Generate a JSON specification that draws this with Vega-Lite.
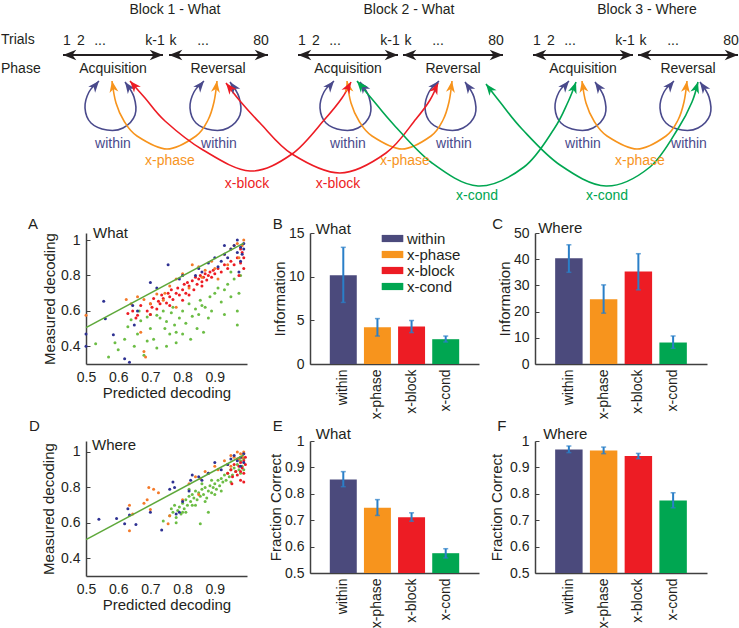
{
"$schema": "https://vega.github.io/schema/vega-lite/v6.json",
"padding": 0,
"autosize": {"type": "pad"},
"background": "white",
"columns": 5,
"spacing": {"row": 77, "column": 0},
"bounds": "flush",
"align": {"row": "each", "column": "each"},
"resolve": {"scale": {"color": "independent"}, "legend": {"color": "independent"}},
"datasets": {
"barrows": [{"x":63,"x2":163,"y":52},{"x":169,"x2":268,"y":52},{"x":298,"x2":398,"y":52},{"x":403,"x2":503,"y":52},{"x":533,"x2":633,"y":52},{"x":638,"x2":738,"y":52}],
"bheads": [{"x":63,"y":52,"a":-90},{"x":163,"y":52,"a":90},{"x":169,"y":52,"a":-90},{"x":268,"y":52,"a":90},{"x":298,"y":52,"a":-90},{"x":398,"y":52,"a":90},{"x":403,"y":52,"a":-90},{"x":503,"y":52,"a":90},{"x":533,"y":52,"a":-90},{"x":633,"y":52,"a":90},{"x":638,"y":52,"a":-90},{"x":738,"y":52,"a":90}],
"curves": [
{"id":"L1","g":"w","i":0,"x":99,"y":78},{"id":"L1","g":"w","i":1,"x":89,"y":89},{"id":"L1","g":"w","i":2,"x":85,"y":105},{"id":"L1","g":"w","i":3,"x":91,"y":120},{"id":"L1","g":"w","i":4,"x":107,"y":127},{"id":"L1","g":"w","i":5,"x":123,"y":125},{"id":"L1","g":"w","i":6,"x":135,"y":112},{"id":"L1","g":"w","i":7,"x":134,"y":94},{"id":"L1","g":"w","i":8,"x":125,"y":79},
{"id":"L2","g":"w","i":0,"x":204,"y":78},{"id":"L2","g":"w","i":1,"x":194,"y":89},{"id":"L2","g":"w","i":2,"x":190,"y":105},{"id":"L2","g":"w","i":3,"x":196,"y":120},{"id":"L2","g":"w","i":4,"x":212,"y":127},{"id":"L2","g":"w","i":5,"x":228,"y":125},{"id":"L2","g":"w","i":6,"x":240,"y":112},{"id":"L2","g":"w","i":7,"x":239,"y":94},{"id":"L2","g":"w","i":8,"x":230,"y":79},
{"id":"L3","g":"w","i":0,"x":334,"y":78},{"id":"L3","g":"w","i":1,"x":324,"y":89},{"id":"L3","g":"w","i":2,"x":320,"y":105},{"id":"L3","g":"w","i":3,"x":326,"y":120},{"id":"L3","g":"w","i":4,"x":342,"y":127},{"id":"L3","g":"w","i":5,"x":358,"y":125},{"id":"L3","g":"w","i":6,"x":370,"y":112},{"id":"L3","g":"w","i":7,"x":369,"y":94},{"id":"L3","g":"w","i":8,"x":360,"y":79},
{"id":"L4","g":"w","i":0,"x":439,"y":78},{"id":"L4","g":"w","i":1,"x":429,"y":89},{"id":"L4","g":"w","i":2,"x":425,"y":105},{"id":"L4","g":"w","i":3,"x":431,"y":120},{"id":"L4","g":"w","i":4,"x":447,"y":127},{"id":"L4","g":"w","i":5,"x":463,"y":125},{"id":"L4","g":"w","i":6,"x":475,"y":112},{"id":"L4","g":"w","i":7,"x":474,"y":94},{"id":"L4","g":"w","i":8,"x":465,"y":79},
{"id":"L5","g":"w","i":0,"x":569,"y":78},{"id":"L5","g":"w","i":1,"x":559,"y":89},{"id":"L5","g":"w","i":2,"x":555,"y":105},{"id":"L5","g":"w","i":3,"x":561,"y":120},{"id":"L5","g":"w","i":4,"x":577,"y":127},{"id":"L5","g":"w","i":5,"x":593,"y":125},{"id":"L5","g":"w","i":6,"x":605,"y":112},{"id":"L5","g":"w","i":7,"x":604,"y":94},{"id":"L5","g":"w","i":8,"x":595,"y":79},
{"id":"L6","g":"w","i":0,"x":674,"y":78},{"id":"L6","g":"w","i":1,"x":664,"y":89},{"id":"L6","g":"w","i":2,"x":660,"y":105},{"id":"L6","g":"w","i":3,"x":666,"y":120},{"id":"L6","g":"w","i":4,"x":682,"y":127},{"id":"L6","g":"w","i":5,"x":698,"y":125},{"id":"L6","g":"w","i":6,"x":710,"y":112},{"id":"L6","g":"w","i":7,"x":709,"y":94},{"id":"L6","g":"w","i":8,"x":700,"y":79},
{"id":"O1","g":"p","i":0,"x":112,"y":78},{"id":"O1","g":"p","i":1,"x":116,"y":100},{"id":"O1","g":"p","i":2,"x":124,"y":118},{"id":"O1","g":"p","i":3,"x":137,"y":133},{"id":"O1","g":"p","i":4,"x":167,"y":146},{"id":"O1","g":"p","i":5,"x":196,"y":133},{"id":"O1","g":"p","i":6,"x":208,"y":117},{"id":"O1","g":"p","i":7,"x":214,"y":99},{"id":"O1","g":"p","i":8,"x":217,"y":78},
{"id":"O2","g":"p","i":0,"x":347,"y":78},{"id":"O2","g":"p","i":1,"x":351,"y":100},{"id":"O2","g":"p","i":2,"x":359,"y":118},{"id":"O2","g":"p","i":3,"x":372,"y":133},{"id":"O2","g":"p","i":4,"x":402,"y":146},{"id":"O2","g":"p","i":5,"x":431,"y":133},{"id":"O2","g":"p","i":6,"x":443,"y":117},{"id":"O2","g":"p","i":7,"x":449,"y":99},{"id":"O2","g":"p","i":8,"x":452,"y":78},
{"id":"O3","g":"p","i":0,"x":582,"y":78},{"id":"O3","g":"p","i":1,"x":586,"y":100},{"id":"O3","g":"p","i":2,"x":594,"y":118},{"id":"O3","g":"p","i":3,"x":607,"y":133},{"id":"O3","g":"p","i":4,"x":637,"y":146},{"id":"O3","g":"p","i":5,"x":666,"y":133},{"id":"O3","g":"p","i":6,"x":678,"y":117},{"id":"O3","g":"p","i":7,"x":684,"y":99},{"id":"O3","g":"p","i":8,"x":687,"y":78},
{"id":"R1","g":"b","i":0,"x":130,"y":78},{"id":"R1","g":"b","i":1,"x":145,"y":95},{"id":"R1","g":"b","i":2,"x":165,"y":118},{"id":"R1","g":"b","i":3,"x":203,"y":147},{"id":"R1","g":"b","i":4,"x":250,"y":168},{"id":"R1","g":"b","i":5,"x":292,"y":151},{"id":"R1","g":"b","i":6,"x":325,"y":116},{"id":"R1","g":"b","i":7,"x":342,"y":95},{"id":"R1","g":"b","i":8,"x":351,"y":79},
{"id":"R2","g":"b","i":0,"x":226,"y":80},{"id":"R2","g":"b","i":1,"x":240,"y":98},{"id":"R2","g":"b","i":2,"x":260,"y":120},{"id":"R2","g":"b","i":3,"x":292,"y":151},{"id":"R2","g":"b","i":4,"x":340,"y":170},{"id":"R2","g":"b","i":5,"x":386,"y":150},{"id":"R2","g":"b","i":6,"x":416,"y":116},{"id":"R2","g":"b","i":7,"x":430,"y":97},{"id":"R2","g":"b","i":8,"x":438,"y":80},
{"id":"G1","g":"c","i":0,"x":357,"y":78},{"id":"G1","g":"c","i":1,"x":372,"y":96},{"id":"G1","g":"c","i":2,"x":394,"y":122},{"id":"G1","g":"c","i":3,"x":432,"y":160},{"id":"G1","g":"c","i":4,"x":478,"y":183},{"id":"G1","g":"c","i":5,"x":524,"y":164},{"id":"G1","g":"c","i":6,"x":554,"y":126},{"id":"G1","g":"c","i":7,"x":568,"y":99},{"id":"G1","g":"c","i":8,"x":576,"y":79},
{"id":"G2","g":"c","i":0,"x":486,"y":81},{"id":"G2","g":"c","i":1,"x":500,"y":99},{"id":"G2","g":"c","i":2,"x":522,"y":126},{"id":"G2","g":"c","i":3,"x":560,"y":162},{"id":"G2","g":"c","i":4,"x":606,"y":183},{"id":"G2","g":"c","i":5,"x":650,"y":164},{"id":"G2","g":"c","i":6,"x":679,"y":124},{"id":"G2","g":"c","i":7,"x":692,"y":99},{"id":"G2","g":"c","i":8,"x":698,"y":79}
],
"heads": [
{"x":99,"y":78,"a":40,"g":"w"},{"x":125,"y":79,"a":-35,"g":"w"},{"x":204,"y":78,"a":40,"g":"w"},{"x":230,"y":79,"a":-35,"g":"w"},{"x":334,"y":78,"a":40,"g":"w"},{"x":360,"y":79,"a":-35,"g":"w"},{"x":439,"y":78,"a":40,"g":"w"},{"x":465,"y":79,"a":-35,"g":"w"},{"x":569,"y":78,"a":40,"g":"w"},{"x":595,"y":79,"a":-35,"g":"w"},{"x":674,"y":78,"a":40,"g":"w"},{"x":700,"y":79,"a":-35,"g":"w"},
{"x":112,"y":78,"a":-10,"g":"p"},{"x":217,"y":78,"a":8,"g":"p"},{"x":347,"y":78,"a":-10,"g":"p"},{"x":452,"y":78,"a":8,"g":"p"},{"x":582,"y":78,"a":-10,"g":"p"},{"x":687,"y":78,"a":8,"g":"p"},
{"x":130,"y":78,"a":-41,"g":"b"},{"x":351,"y":79,"a":29,"g":"b"},{"x":226,"y":80,"a":-38,"g":"b"},{"x":438,"y":80,"a":25,"g":"b"},
{"x":357,"y":78,"a":-40,"g":"c"},{"x":576,"y":79,"a":19,"g":"c"},{"x":486,"y":81,"a":-38,"g":"c"},{"x":698,"y":79,"a":17,"g":"c"}
],
"dtext": [
{"x":175,"y":11,"t":"Block 1 - What","g":"k"},{"x":409,"y":11,"t":"Block 2 - What","g":"k"},{"x":647,"y":11,"t":"Block 3 - Where","g":"k"},
{"x":67,"y":42,"t":"1","g":"k"},{"x":81,"y":42,"t":"2","g":"k"},{"x":100,"y":42,"t":"...","g":"k"},{"x":155,"y":42,"t":"k-1","g":"k"},{"x":173,"y":42,"t":"k","g":"k"},{"x":203,"y":42,"t":"...","g":"k"},{"x":261,"y":42,"t":"80","g":"k"},
{"x":302,"y":42,"t":"1","g":"k"},{"x":316,"y":42,"t":"2","g":"k"},{"x":335,"y":42,"t":"...","g":"k"},{"x":390,"y":42,"t":"k-1","g":"k"},{"x":408,"y":42,"t":"k","g":"k"},{"x":438,"y":42,"t":"...","g":"k"},{"x":496,"y":42,"t":"80","g":"k"},
{"x":537,"y":42,"t":"1","g":"k"},{"x":551,"y":42,"t":"2","g":"k"},{"x":570,"y":42,"t":"...","g":"k"},{"x":625,"y":42,"t":"k-1","g":"k"},{"x":643,"y":42,"t":"k","g":"k"},{"x":673,"y":42,"t":"...","g":"k"},{"x":731,"y":42,"t":"80","g":"k"},
{"x":113,"y":70,"t":"Acquisition","g":"k"},{"x":218,"y":70,"t":"Reversal","g":"k"},{"x":348,"y":70,"t":"Acquisition","g":"k"},{"x":453,"y":70,"t":"Reversal","g":"k"},{"x":583,"y":70,"t":"Acquisition","g":"k"},{"x":688,"y":70,"t":"Reversal","g":"k"},
{"x":113,"y":145,"t":"within","g":"w"},{"x":219,"y":145,"t":"within","g":"w"},{"x":348,"y":145,"t":"within","g":"w"},{"x":454,"y":145,"t":"within","g":"w"},{"x":583,"y":145,"t":"within","g":"w"},{"x":689,"y":145,"t":"within","g":"w"},
{"x":170,"y":162,"t":"x-phase","g":"p"},{"x":405,"y":162,"t":"x-phase","g":"p"},{"x":640,"y":162,"t":"x-phase","g":"p"},
{"x":247,"y":185,"t":"x-block","g":"b"},{"x":338,"y":185,"t":"x-block","g":"b"},
{"x":477,"y":197,"t":"x-cond","g":"c"},{"x":607,"y":197,"t":"x-cond","g":"c"}
],
"ltext": [{"x":1,"y":41,"t":"Trials"},{"x":1,"y":70,"t":"Phase"}],
"scatA": [
{"x":0.53,"y":0.415,"c":"c"},{"x":0.57,"y":0.34,"c":"c"},{"x":0.59,"y":0.42,"c":"c"},{"x":0.6,"y":0.38,"c":"c"},{"x":0.62,"y":0.44,"c":"c"},{"x":0.63,"y":0.51,"c":"c"},{"x":0.64,"y":0.55,"c":"c"},{"x":0.65,"y":0.4,"c":"c"},{"x":0.66,"y":0.47,"c":"c"},{"x":0.665,"y":0.6,"c":"c"},{"x":0.67,"y":0.545,"c":"c"},{"x":0.68,"y":0.35,"c":"c"},{"x":0.69,"y":0.565,"c":"c"},{"x":0.7,"y":0.5,"c":"c"},{"x":0.7,"y":0.58,"c":"c"},{"x":0.71,"y":0.44,"c":"c"},{"x":0.72,"y":0.575,"c":"c"},{"x":0.72,"y":0.39,"c":"c"},{"x":0.73,"y":0.56,"c":"c"},{"x":0.74,"y":0.6,"c":"c"},{"x":0.745,"y":0.5,"c":"c"},{"x":0.75,"y":0.54,"c":"c"},{"x":0.76,"y":0.47,"c":"c"},{"x":0.765,"y":0.59,"c":"c"},{"x":0.77,"y":0.62,"c":"c"},{"x":0.775,"y":0.52,"c":"c"},{"x":0.78,"y":0.48,"c":"c"},{"x":0.79,"y":0.56,"c":"c"},{"x":0.8,"y":0.47,"c":"c"},{"x":0.8,"y":0.6,"c":"c"},{"x":0.81,"y":0.53,"c":"c"},{"x":0.82,"y":0.64,"c":"c"},{"x":0.825,"y":0.44,"c":"c"},{"x":0.83,"y":0.57,"c":"c"},{"x":0.84,"y":0.61,"c":"c"},{"x":0.845,"y":0.5,"c":"c"},{"x":0.85,"y":0.58,"c":"c"},{"x":0.855,"y":0.66,"c":"c"},{"x":0.86,"y":0.63,"c":"c"},{"x":0.865,"y":0.48,"c":"c"},{"x":0.87,"y":0.62,"c":"c"},{"x":0.88,"y":0.56,"c":"c"},{"x":0.885,"y":0.68,"c":"c"},{"x":0.89,"y":0.6,"c":"c"},{"x":0.9,"y":0.7,"c":"c"},{"x":0.91,"y":0.73,"c":"c"},{"x":0.92,"y":0.65,"c":"c"},{"x":0.93,"y":0.72,"c":"c"},{"x":0.94,"y":0.75,"c":"c"},{"x":0.95,"y":0.68,"c":"c"},{"x":0.96,"y":0.78,"c":"c"},{"x":0.97,"y":0.6,"c":"c"},{"x":0.975,"y":0.7,"c":"c"},{"x":0.98,"y":0.8,"c":"c"},{"x":0.97,"y":0.52,"c":"c"},{"x":0.75,"y":0.4,"c":"c"},{"x":0.69,"y":0.43,"c":"c"},{"x":0.78,"y":0.42,"c":"c"},{"x":0.93,"y":0.58,"c":"c"},{"x":0.95,"y":0.82,"c":"c"},
{"x":0.63,"y":0.585,"c":"b"},{"x":0.645,"y":0.6,"c":"b"},{"x":0.655,"y":0.56,"c":"b"},{"x":0.66,"y":0.575,"c":"b"},{"x":0.67,"y":0.63,"c":"b"},{"x":0.69,"y":0.6,"c":"b"},{"x":0.7,"y":0.64,"c":"b"},{"x":0.705,"y":0.62,"c":"b"},{"x":0.71,"y":0.67,"c":"b"},{"x":0.72,"y":0.61,"c":"b"},{"x":0.725,"y":0.655,"c":"b"},{"x":0.73,"y":0.64,"c":"b"},{"x":0.735,"y":0.69,"c":"b"},{"x":0.74,"y":0.67,"c":"b"},{"x":0.75,"y":0.645,"c":"b"},{"x":0.755,"y":0.7,"c":"b"},{"x":0.76,"y":0.68,"c":"b"},{"x":0.765,"y":0.72,"c":"b"},{"x":0.77,"y":0.665,"c":"b"},{"x":0.78,"y":0.7,"c":"b"},{"x":0.785,"y":0.73,"c":"b"},{"x":0.79,"y":0.69,"c":"b"},{"x":0.8,"y":0.72,"c":"b"},{"x":0.805,"y":0.75,"c":"b"},{"x":0.81,"y":0.7,"c":"b"},{"x":0.815,"y":0.76,"c":"b"},{"x":0.82,"y":0.74,"c":"b"},{"x":0.83,"y":0.77,"c":"b"},{"x":0.835,"y":0.72,"c":"b"},{"x":0.84,"y":0.79,"c":"b"},{"x":0.845,"y":0.75,"c":"b"},{"x":0.85,"y":0.78,"c":"b"},{"x":0.855,"y":0.8,"c":"b"},{"x":0.86,"y":0.765,"c":"b"},{"x":0.865,"y":0.79,"c":"b"},{"x":0.87,"y":0.81,"c":"b"},{"x":0.875,"y":0.775,"c":"b"},{"x":0.88,"y":0.8,"c":"b"},{"x":0.885,"y":0.82,"c":"b"},{"x":0.89,"y":0.79,"c":"b"},{"x":0.895,"y":0.83,"c":"b"},{"x":0.9,"y":0.81,"c":"b"},{"x":0.91,"y":0.84,"c":"b"},{"x":0.92,"y":0.82,"c":"b"},{"x":0.93,"y":0.86,"c":"b"},{"x":0.94,"y":0.84,"c":"b"},{"x":0.95,"y":0.88,"c":"b"},{"x":0.96,"y":0.86,"c":"b"},{"x":0.97,"y":0.9,"c":"b"},{"x":0.98,"y":0.87,"c":"b"},{"x":0.985,"y":0.93,"c":"b"},{"x":0.99,"y":0.9,"c":"b"},{"x":0.98,"y":0.95,"c":"b"},{"x":0.99,"y":0.84,"c":"b"},{"x":0.975,"y":0.8,"c":"b"},{"x":0.7,"y":0.58,"c":"b"},{"x":0.76,"y":0.63,"c":"b"},{"x":0.82,"y":0.69,"c":"b"},{"x":0.86,"y":0.74,"c":"b"},{"x":0.8,"y":0.66,"c":"b"},
{"x":0.5,"y":0.575,"c":"p"},{"x":0.625,"y":0.665,"c":"p"},{"x":0.64,"y":0.64,"c":"p"},{"x":0.66,"y":0.68,"c":"p"},{"x":0.68,"y":0.665,"c":"p"},{"x":0.68,"y":0.37,"c":"p"},{"x":0.685,"y":0.34,"c":"p"},{"x":0.67,"y":0.48,"c":"p"},{"x":0.7,"y":0.64,"c":"p"},{"x":0.72,"y":0.695,"c":"p"},{"x":0.745,"y":0.7,"c":"p"},{"x":0.76,"y":0.74,"c":"p"},{"x":0.78,"y":0.78,"c":"p"},{"x":0.8,"y":0.81,"c":"p"},{"x":0.82,"y":0.73,"c":"p"},{"x":0.83,"y":0.86,"c":"p"},{"x":0.85,"y":0.85,"c":"p"},{"x":0.86,"y":0.79,"c":"p"},{"x":0.87,"y":0.83,"c":"p"},{"x":0.89,"y":0.88,"c":"p"},{"x":0.9,"y":0.84,"c":"p"},{"x":0.91,"y":0.78,"c":"p"},{"x":0.93,"y":0.92,"c":"p"},{"x":0.94,"y":0.86,"c":"p"},{"x":0.95,"y":0.95,"c":"p"},{"x":0.96,"y":0.97,"c":"p"},{"x":0.97,"y":0.98,"c":"p"},{"x":0.975,"y":0.9,"c":"p"},{"x":0.985,"y":0.97,"c":"p"},{"x":0.99,"y":1.0,"c":"p"},{"x":0.78,"y":0.62,"c":"p"},{"x":0.74,"y":0.66,"c":"p"},
{"x":0.5,"y":0.47,"c":"w"},{"x":0.5,"y":0.4,"c":"w"},{"x":0.555,"y":0.655,"c":"w"},{"x":0.56,"y":0.555,"c":"w"},{"x":0.585,"y":0.465,"c":"w"},{"x":0.62,"y":0.33,"c":"w"},{"x":0.635,"y":0.31,"c":"w"},{"x":0.645,"y":0.63,"c":"w"},{"x":0.65,"y":0.52,"c":"w"},{"x":0.66,"y":0.6,"c":"w"},{"x":0.7,"y":0.76,"c":"w"},{"x":0.72,"y":0.73,"c":"w"},{"x":0.755,"y":0.86,"c":"w"},{"x":0.79,"y":0.78,"c":"w"},{"x":0.8,"y":0.8,"c":"w"},{"x":0.84,"y":0.8,"c":"w"},{"x":0.85,"y":0.84,"c":"w"},{"x":0.86,"y":0.82,"c":"w"},{"x":0.88,"y":0.87,"c":"w"},{"x":0.9,"y":0.9,"c":"w"},{"x":0.91,"y":0.85,"c":"w"},{"x":0.92,"y":0.88,"c":"w"},{"x":0.93,"y":0.92,"c":"w"},{"x":0.94,"y":0.9,"c":"w"},{"x":0.95,"y":0.95,"c":"w"},{"x":0.96,"y":0.97,"c":"w"},{"x":0.97,"y":1.0,"c":"w"},{"x":0.98,"y":0.96,"c":"w"},{"x":0.985,"y":0.92,"c":"w"},{"x":0.99,"y":0.98,"c":"w"},{"x":0.98,"y":0.88,"c":"w"},{"x":0.97,"y":0.93,"c":"w"},{"x":0.99,"y":0.95,"c":"w"},{"x":0.975,"y":0.82,"c":"w"},{"x":0.93,"y":0.97,"c":"w"}
],
"scatD": [
{"x":0.76,"y":0.64,"c":"c"},{"x":0.765,"y":0.68,"c":"c"},{"x":0.77,"y":0.66,"c":"c"},{"x":0.775,"y":0.7,"c":"c"},{"x":0.78,"y":0.63,"c":"c"},{"x":0.785,"y":0.67,"c":"c"},{"x":0.79,"y":0.69,"c":"c"},{"x":0.795,"y":0.65,"c":"c"},{"x":0.8,"y":0.71,"c":"c"},{"x":0.805,"y":0.68,"c":"c"},{"x":0.81,"y":0.73,"c":"c"},{"x":0.815,"y":0.7,"c":"c"},{"x":0.82,"y":0.75,"c":"c"},{"x":0.825,"y":0.72,"c":"c"},{"x":0.83,"y":0.76,"c":"c"},{"x":0.835,"y":0.74,"c":"c"},{"x":0.84,"y":0.78,"c":"c"},{"x":0.845,"y":0.73,"c":"c"},{"x":0.85,"y":0.77,"c":"c"},{"x":0.855,"y":0.75,"c":"c"},{"x":0.86,"y":0.79,"c":"c"},{"x":0.865,"y":0.76,"c":"c"},{"x":0.87,"y":0.8,"c":"c"},{"x":0.875,"y":0.74,"c":"c"},{"x":0.88,"y":0.78,"c":"c"},{"x":0.885,"y":0.81,"c":"c"},{"x":0.89,"y":0.77,"c":"c"},{"x":0.895,"y":0.8,"c":"c"},{"x":0.9,"y":0.82,"c":"c"},{"x":0.905,"y":0.79,"c":"c"},{"x":0.91,"y":0.84,"c":"c"},{"x":0.915,"y":0.81,"c":"c"},{"x":0.92,"y":0.85,"c":"c"},{"x":0.925,"y":0.83,"c":"c"},{"x":0.93,"y":0.87,"c":"c"},{"x":0.935,"y":0.84,"c":"c"},{"x":0.94,"y":0.88,"c":"c"},{"x":0.945,"y":0.86,"c":"c"},{"x":0.95,"y":0.9,"c":"c"},{"x":0.955,"y":0.87,"c":"c"},{"x":0.96,"y":0.91,"c":"c"},{"x":0.965,"y":0.89,"c":"c"},{"x":0.97,"y":0.93,"c":"c"},{"x":0.975,"y":0.9,"c":"c"},{"x":0.98,"y":0.95,"c":"c"},{"x":0.985,"y":0.92,"c":"c"},{"x":0.99,"y":0.96,"c":"c"},{"x":0.99,"y":0.9,"c":"c"},{"x":0.855,"y":0.595,"c":"c"},{"x":0.88,"y":0.66,"c":"c"},{"x":0.9,"y":0.76,"c":"c"},{"x":0.87,"y":0.72,"c":"c"},{"x":0.83,"y":0.7,"c":"c"},{"x":0.8,"y":0.66,"c":"c"},{"x":0.78,"y":0.6,"c":"c"},{"x":0.92,"y":0.78,"c":"c"},{"x":0.95,"y":0.83,"c":"c"},{"x":0.98,"y":0.88,"c":"c"},{"x":0.74,"y":0.61,"c":"c"},{"x":0.86,"y":0.82,"c":"c"},{"x":0.89,"y":0.84,"c":"c"},{"x":0.82,"y":0.79,"c":"c"},{"x":0.84,"y":0.7,"c":"c"},{"x":0.81,"y":0.66,"c":"c"},
{"x":0.94,"y":0.88,"c":"b"},{"x":0.95,"y":0.9,"c":"b"},{"x":0.955,"y":0.86,"c":"b"},{"x":0.96,"y":0.93,"c":"b"},{"x":0.965,"y":0.89,"c":"b"},{"x":0.97,"y":0.96,"c":"b"},{"x":0.97,"y":0.87,"c":"b"},{"x":0.975,"y":0.92,"c":"b"},{"x":0.98,"y":0.94,"c":"b"},{"x":0.98,"y":0.89,"c":"b"},{"x":0.985,"y":0.97,"c":"b"},{"x":0.985,"y":0.91,"c":"b"},{"x":0.99,"y":0.95,"c":"b"},{"x":0.99,"y":0.88,"c":"b"},{"x":0.99,"y":0.99,"c":"b"},{"x":0.995,"y":0.93,"c":"b"},{"x":0.995,"y":0.97,"c":"b"},{"x":0.98,"y":0.84,"c":"b"},{"x":0.953,"y":0.82,"c":"b"},{"x":0.99,"y":0.83,"c":"b"},
{"x":0.635,"y":0.7,"c":"p"},{"x":0.635,"y":0.555,"c":"p"},{"x":0.645,"y":0.65,"c":"p"},{"x":0.68,"y":0.71,"c":"p"},{"x":0.69,"y":0.73,"c":"p"},{"x":0.695,"y":0.8,"c":"p"},{"x":0.7,"y":0.675,"c":"p"},{"x":0.71,"y":0.79,"c":"p"},{"x":0.725,"y":0.77,"c":"p"},{"x":0.755,"y":0.595,"c":"p"},{"x":0.76,"y":0.64,"c":"p"},{"x":0.8,"y":0.73,"c":"p"},{"x":0.82,"y":0.82,"c":"p"},{"x":0.84,"y":0.86,"c":"p"},{"x":0.855,"y":0.85,"c":"p"},{"x":0.87,"y":0.89,"c":"p"},{"x":0.88,"y":0.88,"c":"p"},{"x":0.9,"y":0.92,"c":"p"},{"x":0.91,"y":0.9,"c":"p"},{"x":0.93,"y":0.95,"c":"p"},{"x":0.94,"y":0.93,"c":"p"},{"x":0.95,"y":0.98,"c":"p"},{"x":0.96,"y":0.97,"c":"p"},{"x":0.97,"y":1.0,"c":"p"},{"x":0.975,"y":0.96,"c":"p"},{"x":0.98,"y":0.99,"c":"p"},{"x":0.99,"y":1.0,"c":"p"},{"x":0.985,"y":0.97,"c":"p"},{"x":0.95,"y":0.92,"c":"p"},{"x":0.85,"y":0.76,"c":"p"},
{"x":0.54,"y":0.62,"c":"w"},{"x":0.595,"y":0.625,"c":"w"},{"x":0.62,"y":0.595,"c":"w"},{"x":0.63,"y":0.68,"c":"w"},{"x":0.635,"y":0.645,"c":"w"},{"x":0.655,"y":0.59,"c":"w"},{"x":0.7,"y":0.66,"c":"w"},{"x":0.735,"y":0.56,"c":"w"},{"x":0.76,"y":0.79,"c":"w"},{"x":0.77,"y":0.83,"c":"w"},{"x":0.775,"y":0.8,"c":"w"},{"x":0.78,"y":0.65,"c":"w"},{"x":0.79,"y":0.66,"c":"w"},{"x":0.8,"y":0.72,"c":"w"},{"x":0.82,"y":0.78,"c":"w"},{"x":0.825,"y":0.84,"c":"w"},{"x":0.83,"y":0.87,"c":"w"},{"x":0.85,"y":0.86,"c":"w"},{"x":0.86,"y":0.84,"c":"w"},{"x":0.88,"y":0.88,"c":"w"},{"x":0.9,"y":0.94,"c":"w"},{"x":0.92,"y":0.9,"c":"w"},{"x":0.94,"y":0.93,"c":"w"},{"x":0.95,"y":0.96,"c":"w"},{"x":0.96,"y":0.98,"c":"w"},{"x":0.97,"y":0.95,"c":"w"},{"x":0.98,"y":0.97,"c":"w"},{"x":0.99,"y":0.99,"c":"w"},{"x":0.98,"y":0.92,"c":"w"},{"x":0.99,"y":0.94,"c":"w"}
],
"fitline": [{"x":0.5,"y":0.505},{"x":0.99,"y":0.983}],
"barB": [{"cat":"within","v":10.15,"lo":7.05,"hi":13.36},{"cat":"x-phase","v":4.21,"lo":3.2,"hi":5.2},{"cat":"x-block","v":4.29,"lo":3.6,"hi":4.98},{"cat":"x-cond","v":2.84,"lo":2.52,"hi":3.2}],
"barC": [{"cat":"within","v":40.4,"lo":35,"hi":45.5},{"cat":"x-phase","v":24.75,"lo":19.4,"hi":30.2},{"cat":"x-block","v":35.3,"lo":28.3,"hi":42.1},{"cat":"x-cond","v":8.2,"lo":6.0,"hi":10.7}],
"barE": [{"cat":"within","v":0.854,"lo":0.827,"hi":0.884},{"cat":"x-phase","v":0.747,"lo":0.718,"hi":0.778},{"cat":"x-block","v":0.711,"lo":0.696,"hi":0.728},{"cat":"x-cond","v":0.575,"lo":0.557,"hi":0.592}],
"barF": [{"cat":"within","v":0.968,"lo":0.956,"hi":0.981},{"cat":"x-phase","v":0.964,"lo":0.952,"hi":0.977},{"cat":"x-block","v":0.943,"lo":0.933,"hi":0.953},{"cat":"x-cond","v":0.775,"lo":0.747,"hi":0.804}]
},
"concat": [
{
"width": 161, "height": 153,
"encoding": {
"x": {"field": "x", "type": "quantitative", "scale": {"domain": [86, 247], "nice": false, "zero": false}, "axis": null},
"y": {"field": "y", "type": "quantitative", "scale": {"domain": [0, 153], "reverse": true, "nice": false, "zero": false}, "axis": null}
},
"layer": [
{"data": {"values": [{"x": 0, "x2": 739, "y": 0}]}, "mark": {"type": "rule", "color": "white", "opacity": 0, "strokeWidth": 1}, "encoding": {"x2": {"field": "x2"}}},
{"data": {"name": "barrows"}, "mark": {"type": "rule", "color": "#231f20", "strokeWidth": 2}, "encoding": {"x2": {"field": "x2"}}},
{"data": {"name": "bheads"}, "mark": {"type": "point", "shape": "M0,0L0.75,1.9L0,1.35L-0.75,1.9Z", "filled": true, "size": 196, "color": "#231f20", "opacity": 1, "strokeWidth": 0}, "encoding": {"angle": {"field": "a", "type": "quantitative", "scale": null}}},
{"data": {"name": "curves"}, "mark": {"type": "line", "interpolate": "cardinal", "strokeWidth": 1.6}, "encoding": {"detail": {"field": "id"}, "order": {"field": "i", "type": "quantitative"}, "color": {"field": "g", "type": "nominal", "scale": {"domain": ["k", "w", "p", "b", "c"], "range": ["#231f20", "#4a4a8c", "#f7941d", "#ed1c24", "#00a651"]}, "legend": null}}},
{"data": {"name": "heads"}, "mark": {"type": "point", "shape": "M0,0L0.75,1.9L0,1.35L-0.75,1.9Z", "filled": true, "size": 144, "opacity": 1, "strokeWidth": 0}, "encoding": {"angle": {"field": "a", "type": "quantitative", "scale": null}, "color": {"field": "g", "type": "nominal", "legend": null}}},
{"data": {"name": "dtext"}, "mark": {"type": "text", "align": "center", "baseline": "alphabetic", "fontSize": 14}, "encoding": {"text": {"field": "t"}, "color": {"field": "g", "type": "nominal", "legend": null}}},
{"data": {"name": "ltext"}, "mark": {"type": "text", "align": "left", "baseline": "alphabetic", "fontSize": 14, "color": "#231f20"}, "encoding": {"text": {"field": "t"}}}
]
},
{"width": 1, "height": 1, "data": {"values": [{"a": 0}]}, "mark": {"type": "point", "opacity": 0}, "encoding": {}},
{"width": 1, "height": 1, "data": {"values": [{"a": 0}]}, "mark": {"type": "point", "opacity": 0}, "encoding": {}},
{"width": 1, "height": 1, "data": {"values": [{"a": 0}]}, "mark": {"type": "point", "opacity": 0}, "encoding": {}},
{"width": 1, "height": 1, "data": {"values": [{"a": 0}]}, "mark": {"type": "point", "opacity": 0}, "encoding": {}},
{
"width": 161, "height": 131,
"encoding": {
"x": {"field": "x", "type": "quantitative", "scale": {"domain": [0.5, 1], "nice": false, "zero": false}, "axis": {"title": "Predicted decoding", "values": [0.5, 0.6, 0.7, 0.8, 0.9], "format": "~g", "ticks": false, "labelPadding": 6, "titlePadding": 1}},
"y": {"field": "y", "type": "quantitative", "scale": {"domain": [0.3, 1.04], "nice": false, "zero": false}, "axis": {"title": "Measured decoding", "values": [0.4, 0.6, 0.8, 1], "format": "~g", "tickSize": -4, "labelPadding": 10, "titlePadding": 3}}
},
"layer": [
{"data": {"name": "scatA"}, "mark": {"type": "circle", "size": 9, "opacity": 1}, "encoding": {"color": {"field": "c", "type": "nominal", "scale": {"domain": ["w", "p", "b", "c"], "range": ["#2e3192", "#f47a2a", "#ed1c24", "#6cbd45"]}, "legend": null}}},
{"data": {"name": "fitline"}, "mark": {"type": "line", "color": "#5ea83a", "strokeWidth": 1.5}},
{"data": {"values": [{"x": 0.5, "y": 1.04, "t": "What"}]}, "mark": {"type": "text", "align": "left", "baseline": "middle", "fontSize": 15, "dx": 7, "dy": 0}, "encoding": {"text": {"field": "t"}}},
{"data": {"values": [{"x": 0.5, "y": 1.04, "t": "A"}]}, "mark": {"type": "text", "align": "left", "baseline": "middle", "fontSize": 15, "dx": -58, "dy": -9}, "encoding": {"text": {"field": "t"}}}
]
},
{"width": 63, "height": 1, "data": {"values": [{"a": 0}]}, "mark": {"type": "point", "opacity": 0}, "encoding": {}},
{
"width": 169, "height": 131,
"data": {"name": "barB"},
"encoding": {"x": {"field": "cat", "type": "nominal", "sort": null, "scale": {"domain": ["within", "x-phase", "x-block", "x-cond"], "paddingInner": 0.21, "paddingOuter": 0.58}, "axis": {"title": null, "labelAngle": -90, "ticks": false, "labelPadding": 5}}},
"layer": [
{"mark": {"type": "bar"}, "encoding": {"y": {"field": "v", "type": "quantitative", "scale": {"domain": [0, 15], "nice": false}, "axis": {"title": "Information", "values": [0, 5, 10, 15], "tickSize": -4, "labelPadding": 10, "titlePadding": 1, "labelOverlap": false}}, "color": {"field": "cat", "type": "nominal", "scale": {"domain": ["within", "x-phase", "x-block", "x-cond"], "range": ["#4b4a7c", "#f7941d", "#ed1c24", "#00a651"]}, "legend": {"orient": "none", "legendX": 75, "legendY": -2, "title": null, "symbolType": "M-1.8,-0.6H1.8V0.6H-1.8Z", "symbolSize": 144, "symbolStrokeWidth": 0, "symbolOpacity": 1, "labelOffset": 7, "rowPadding": 0, "padding": 0}}}},
{"mark": {"type": "rule", "color": "#2a7fc8", "strokeWidth": 2}, "encoding": {"y": {"field": "lo", "type": "quantitative", "axis": {"title": "Information", "values": [0, 5, 10, 15], "tickSize": -4, "labelPadding": 10, "titlePadding": 1, "labelOverlap": false}}, "y2": {"field": "hi"}}},
{"mark": {"type": "tick", "color": "#2a7fc8", "thickness": 1.5, "size": 5}, "encoding": {"y": {"field": "lo", "type": "quantitative", "axis": {"title": "Information", "values": [0, 5, 10, 15], "tickSize": -4, "labelPadding": 10, "titlePadding": 1, "labelOverlap": false}}}},
{"mark": {"type": "tick", "color": "#2a7fc8", "thickness": 1.5, "size": 5}, "encoding": {"y": {"field": "hi", "type": "quantitative", "axis": {"title": "Information", "values": [0, 5, 10, 15], "tickSize": -4, "labelPadding": 10, "titlePadding": 1, "labelOverlap": false}}}},
{"data": {"values": [{"cat": "within", "v": 15, "t": "What"}]}, "mark": {"type": "text", "align": "left", "baseline": "middle", "fontSize": 15, "dx": -14, "dy": -4}, "encoding": {"x": {"field": "cat", "type": "nominal", "bandPosition": 0}, "y": {"field": "v", "type": "quantitative", "axis": {"title": "Information", "values": [0, 5, 10, 15], "tickSize": -4, "labelPadding": 10, "titlePadding": 1, "labelOverlap": false}}, "text": {"field": "t"}}},
{"data": {"values": [{"cat": "within", "v": 15, "t": "B"}]}, "mark": {"type": "text", "align": "left", "baseline": "middle", "fontSize": 15, "dx": -57, "dy": -9}, "encoding": {"x": {"field": "cat", "type": "nominal", "bandPosition": 0}, "y": {"field": "v", "type": "quantitative", "axis": {"title": "Information", "values": [0, 5, 10, 15], "tickSize": -4, "labelPadding": 10, "titlePadding": 1, "labelOverlap": false}}, "text": {"field": "t"}}}
]
},
{"width": 56, "height": 1, "data": {"values": [{"a": 0}]}, "mark": {"type": "point", "opacity": 0}, "encoding": {}},
{
"width": 172, "height": 131,
"data": {"name": "barC"},
"encoding": {"x": {"field": "cat", "type": "nominal", "sort": null, "scale": {"domain": ["within", "x-phase", "x-block", "x-cond"], "paddingInner": 0.21, "paddingOuter": 0.58}, "axis": {"title": null, "labelAngle": -90, "ticks": false, "labelPadding": 5}}},
"layer": [
{"mark": {"type": "bar"}, "encoding": {"y": {"field": "v", "type": "quantitative", "scale": {"domain": [0, 50], "nice": false}, "axis": {"title": "Information", "values": [0, 10, 20, 30, 40, 50], "tickSize": -4, "labelPadding": 10, "titlePadding": 1, "labelOverlap": false}}, "color": {"field": "cat", "type": "nominal", "scale": {"domain": ["within", "x-phase", "x-block", "x-cond"], "range": ["#4b4a7c", "#f7941d", "#ed1c24", "#00a651"]}, "legend": null}}},
{"mark": {"type": "rule", "color": "#2a7fc8", "strokeWidth": 2}, "encoding": {"y": {"field": "lo", "type": "quantitative", "axis": {"title": "Information", "values": [0, 10, 20, 30, 40, 50], "tickSize": -4, "labelPadding": 10, "titlePadding": 1, "labelOverlap": false}}, "y2": {"field": "hi"}}},
{"mark": {"type": "tick", "color": "#2a7fc8", "thickness": 1.5, "size": 5}, "encoding": {"y": {"field": "lo", "type": "quantitative", "axis": {"title": "Information", "values": [0, 10, 20, 30, 40, 50], "tickSize": -4, "labelPadding": 10, "titlePadding": 1, "labelOverlap": false}}}},
{"mark": {"type": "tick", "color": "#2a7fc8", "thickness": 1.5, "size": 5}, "encoding": {"y": {"field": "hi", "type": "quantitative", "axis": {"title": "Information", "values": [0, 10, 20, 30, 40, 50], "tickSize": -4, "labelPadding": 10, "titlePadding": 1, "labelOverlap": false}}}},
{"data": {"values": [{"cat": "within", "v": 50, "t": "Where"}]}, "mark": {"type": "text", "align": "left", "baseline": "middle", "fontSize": 15, "dx": -17, "dy": -5}, "encoding": {"x": {"field": "cat", "type": "nominal", "bandPosition": 0}, "y": {"field": "v", "type": "quantitative", "axis": {"title": "Information", "values": [0, 10, 20, 30, 40, 50], "tickSize": -4, "labelPadding": 10, "titlePadding": 1, "labelOverlap": false}}, "text": {"field": "t"}}},
{"data": {"values": [{"cat": "within", "v": 50, "t": "C"}]}, "mark": {"type": "text", "align": "left", "baseline": "middle", "fontSize": 15, "dx": -63, "dy": -9}, "encoding": {"x": {"field": "cat", "type": "nominal", "bandPosition": 0}, "y": {"field": "v", "type": "quantitative", "axis": {"title": "Information", "values": [0, 10, 20, 30, 40, 50], "tickSize": -4, "labelPadding": 10, "titlePadding": 1, "labelOverlap": false}}, "text": {"field": "t"}}}
]
},
{
"width": 161, "height": 135,
"encoding": {
"x": {"field": "x", "type": "quantitative", "scale": {"domain": [0.5, 1], "nice": false, "zero": false}, "axis": {"title": "Predicted decoding", "values": [0.5, 0.6, 0.7, 0.8, 0.9], "format": "~g", "ticks": false, "labelPadding": 6, "titlePadding": 1}},
"y": {"field": "y", "type": "quantitative", "scale": {"domain": [0.3, 1.062], "nice": false, "zero": false}, "axis": {"title": "Measured decoding", "values": [0.4, 0.6, 0.8, 1], "format": "~g", "tickSize": -4, "labelPadding": 10, "titlePadding": 4}}
},
"layer": [
{"data": {"name": "scatD"}, "mark": {"type": "circle", "size": 9, "opacity": 1}, "encoding": {"color": {"field": "c", "type": "nominal", "scale": {"domain": ["w", "p", "b", "c"], "range": ["#2e3192", "#f47a2a", "#ed1c24", "#6cbd45"]}, "legend": null}}},
{"data": {"name": "fitline"}, "mark": {"type": "line", "color": "#5ea83a", "strokeWidth": 1.5}},
{"data": {"values": [{"x": 0.5, "y": 1.062, "t": "Where"}]}, "mark": {"type": "text", "align": "left", "baseline": "middle", "fontSize": 15, "dx": 6, "dy": 4}, "encoding": {"text": {"field": "t"}}},
{"data": {"values": [{"x": 0.5, "y": 1.062, "t": "D"}]}, "mark": {"type": "text", "align": "left", "baseline": "middle", "fontSize": 15, "dx": -57, "dy": -15}, "encoding": {"text": {"field": "t"}}}
]
},
{"width": 63, "height": 1, "data": {"values": [{"a": 0}]}, "mark": {"type": "point", "opacity": 0}, "encoding": {}},
{
"width": 169, "height": 132,
"data": {"name": "barE"},
"encoding": {"x": {"field": "cat", "type": "nominal", "sort": null, "scale": {"domain": ["within", "x-phase", "x-block", "x-cond"], "paddingInner": 0.21, "paddingOuter": 0.58}, "axis": {"title": null, "labelAngle": -90, "ticks": false, "labelPadding": 5}}},
"layer": [
{"mark": {"type": "bar"}, "encoding": {"y": {"field": "v", "type": "quantitative", "scale": {"domain": [0.5, 1], "nice": false, "zero": false}, "axis": {"title": "Fraction Correct", "values": [0.5, 0.6, 0.7, 0.8, 0.9, 1], "format": "~g", "tickSize": -4, "labelPadding": 10, "titlePadding": 1, "labelOverlap": false}}, "y2": {"datum": 0.5}, "color": {"field": "cat", "type": "nominal", "scale": {"domain": ["within", "x-phase", "x-block", "x-cond"], "range": ["#4b4a7c", "#f7941d", "#ed1c24", "#00a651"]}, "legend": null}}},
{"mark": {"type": "rule", "color": "#2a7fc8", "strokeWidth": 2}, "encoding": {"y": {"field": "lo", "type": "quantitative", "axis": {"title": "Fraction Correct", "values": [0.5, 0.6, 0.7, 0.8, 0.9, 1], "format": "~g", "tickSize": -4, "labelPadding": 10, "titlePadding": 1, "labelOverlap": false}}, "y2": {"field": "hi"}}},
{"mark": {"type": "tick", "color": "#2a7fc8", "thickness": 1.5, "size": 5}, "encoding": {"y": {"field": "lo", "type": "quantitative", "axis": {"title": "Fraction Correct", "values": [0.5, 0.6, 0.7, 0.8, 0.9, 1], "format": "~g", "tickSize": -4, "labelPadding": 10, "titlePadding": 1, "labelOverlap": false}}}},
{"mark": {"type": "tick", "color": "#2a7fc8", "thickness": 1.5, "size": 5}, "encoding": {"y": {"field": "hi", "type": "quantitative", "axis": {"title": "Fraction Correct", "values": [0.5, 0.6, 0.7, 0.8, 0.9, 1], "format": "~g", "tickSize": -4, "labelPadding": 10, "titlePadding": 1, "labelOverlap": false}}}},
{"data": {"values": [{"cat": "within", "v": 1, "t": "What"}]}, "mark": {"type": "text", "align": "left", "baseline": "middle", "fontSize": 15, "dx": -14, "dy": -7}, "encoding": {"x": {"field": "cat", "type": "nominal", "bandPosition": 0}, "y": {"field": "v", "type": "quantitative", "axis": {"title": "Fraction Correct", "values": [0.5, 0.6, 0.7, 0.8, 0.9, 1], "format": "~g", "tickSize": -4, "labelPadding": 10, "titlePadding": 1, "labelOverlap": false}}, "text": {"field": "t"}}},
{"data": {"values": [{"cat": "within", "v": 1, "t": "E"}]}, "mark": {"type": "text", "align": "left", "baseline": "middle", "fontSize": 15, "dx": -57, "dy": -15}, "encoding": {"x": {"field": "cat", "type": "nominal", "bandPosition": 0}, "y": {"field": "v", "type": "quantitative", "axis": {"title": "Fraction Correct", "values": [0.5, 0.6, 0.7, 0.8, 0.9, 1], "format": "~g", "tickSize": -4, "labelPadding": 10, "titlePadding": 1, "labelOverlap": false}}, "text": {"field": "t"}}}
]
},
{"width": 56, "height": 1, "data": {"values": [{"a": 0}]}, "mark": {"type": "point", "opacity": 0}, "encoding": {}},
{
"width": 172, "height": 132,
"data": {"name": "barF"},
"encoding": {"x": {"field": "cat", "type": "nominal", "sort": null, "scale": {"domain": ["within", "x-phase", "x-block", "x-cond"], "paddingInner": 0.21, "paddingOuter": 0.58}, "axis": {"title": null, "labelAngle": -90, "ticks": false, "labelPadding": 5}}},
"layer": [
{"mark": {"type": "bar"}, "encoding": {"y": {"field": "v", "type": "quantitative", "scale": {"domain": [0.5, 1], "nice": false, "zero": false}, "axis": {"title": "Fraction Correct", "values": [0.5, 0.6, 0.7, 0.8, 0.9, 1], "format": "~g", "tickSize": -4, "labelPadding": 10, "titlePadding": 5, "labelOverlap": false}}, "y2": {"datum": 0.5}, "color": {"field": "cat", "type": "nominal", "scale": {"domain": ["within", "x-phase", "x-block", "x-cond"], "range": ["#4b4a7c", "#f7941d", "#ed1c24", "#00a651"]}, "legend": null}}},
{"mark": {"type": "rule", "color": "#2a7fc8", "strokeWidth": 2}, "encoding": {"y": {"field": "lo", "type": "quantitative", "axis": {"title": "Fraction Correct", "values": [0.5, 0.6, 0.7, 0.8, 0.9, 1], "format": "~g", "tickSize": -4, "labelPadding": 10, "titlePadding": 5, "labelOverlap": false}}, "y2": {"field": "hi"}}},
{"mark": {"type": "tick", "color": "#2a7fc8", "thickness": 1.5, "size": 5}, "encoding": {"y": {"field": "lo", "type": "quantitative", "axis": {"title": "Fraction Correct", "values": [0.5, 0.6, 0.7, 0.8, 0.9, 1], "format": "~g", "tickSize": -4, "labelPadding": 10, "titlePadding": 5, "labelOverlap": false}}}},
{"mark": {"type": "tick", "color": "#2a7fc8", "thickness": 1.5, "size": 5}, "encoding": {"y": {"field": "hi", "type": "quantitative", "axis": {"title": "Fraction Correct", "values": [0.5, 0.6, 0.7, 0.8, 0.9, 1], "format": "~g", "tickSize": -4, "labelPadding": 10, "titlePadding": 5, "labelOverlap": false}}}},
{"data": {"values": [{"cat": "within", "v": 1, "t": "Where"}]}, "mark": {"type": "text", "align": "left", "baseline": "middle", "fontSize": 15, "dx": -12, "dy": -7}, "encoding": {"x": {"field": "cat", "type": "nominal", "bandPosition": 0}, "y": {"field": "v", "type": "quantitative", "axis": {"title": "Fraction Correct", "values": [0.5, 0.6, 0.7, 0.8, 0.9, 1], "format": "~g", "tickSize": -4, "labelPadding": 10, "titlePadding": 5, "labelOverlap": false}}, "text": {"field": "t"}}},
{"data": {"values": [{"cat": "within", "v": 1, "t": "F"}]}, "mark": {"type": "text", "align": "left", "baseline": "middle", "fontSize": 15, "dx": -58, "dy": -15}, "encoding": {"x": {"field": "cat", "type": "nominal", "bandPosition": 0}, "y": {"field": "v", "type": "quantitative", "axis": {"title": "Fraction Correct", "values": [0.5, 0.6, 0.7, 0.8, 0.9, 1], "format": "~g", "tickSize": -4, "labelPadding": 10, "titlePadding": 5, "labelOverlap": false}}, "text": {"field": "t"}}}
]
}
],
"config": {
"font": "Liberation Sans",
"view": {"stroke": null},
"axis": {"labelFont": "Liberation Sans", "labelFontSize": 14, "labelColor": "#231f20", "titleFont": "Liberation Sans", "titleFontSize": 15, "titleFontWeight": "normal", "titleColor": "#231f20", "domainColor": "#404040", "domainWidth": 1.5, "tickColor": "#404040", "tickWidth": 1, "grid": false, "labelFlush": false, "labelOverlap": false},
"legend": {"labelFont": "Liberation Sans", "labelFontSize": 15, "labelColor": "#231f20"},
"text": {"font": "Liberation Sans", "color": "#231f20"}
}
}
